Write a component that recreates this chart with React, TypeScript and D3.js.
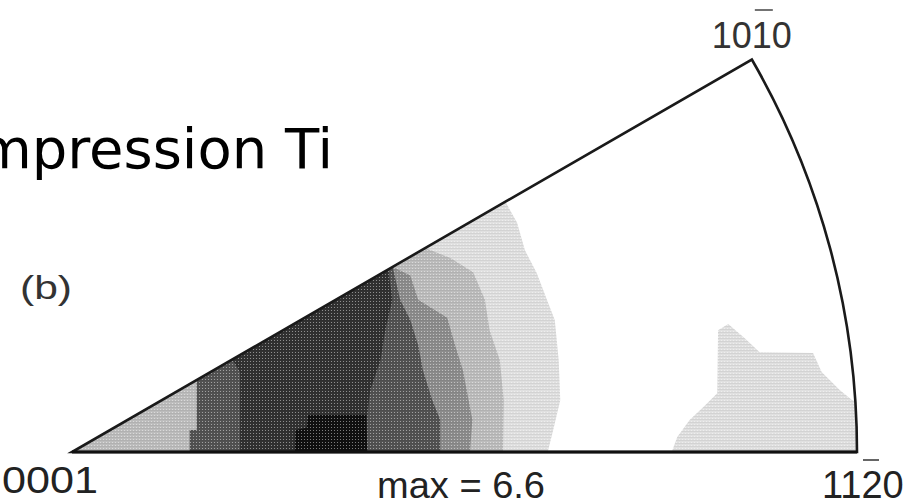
import React from 'react';
import * as d3 from 'd3';

// Inverse pole figure (hexagonal, 30 deg sector). Points are [u, v] in units of the
// sector radius, u along 0001 -> 11-20, v towards 10-10.
const levelColors = ['#e0e0e0', '#bcbcbc', '#8c8c8c', '#525252', '#313131', '#101010'];

// right-hand boundaries, listed from the upper edge down to the 0001-11-20 line
const l1Right = [[0.552, 0.319], [0.567, 0.292], [0.577, 0.257], [0.592, 0.228], [0.605, 0.194], [0.615, 0.168], [0.62, 0.117], [0.622, 0.066], [0.613, 0.028], [0.606, 0]];
const l2Right = [[0.45, 0.26], [0.482, 0.247], [0.511, 0.229], [0.526, 0.194], [0.532, 0.155], [0.545, 0.117], [0.55, 0.066], [0.549, 0]];
const l3Right = [[0.408, 0.236], [0.431, 0.225], [0.441, 0.194], [0.478, 0.171], [0.488, 0.136], [0.498, 0.104], [0.51, 0.041], [0.507, 0]];
const l4Right = [[0.408, 0.238], [0.418, 0.194], [0.431, 0.168], [0.441, 0.136], [0.447, 0.104], [0.459, 0.066], [0.469, 0.041], [0.469, 0]];
const l5Right = [[0.403, 0.232], [0.408, 0.194], [0.399, 0.155], [0.393, 0.117], [0.38, 0.079], [0.376, 0.046], [0.376, 0]];

// left-hand boundaries (top -> bottom); null = band reaches back to 0001
const l3Left = [[0.159, 0.104], [0.159, 0.028], [0.15, 0.028], [0.15, 0]];
const l5Left = [[0.204, 0.118], [0.214, 0.102], [0.214, 0]];

// closed patches
const maxPatch = [[0.284, 0], [0.285, 0.028], [0.299, 0.031], [0.301, 0.047], [0.375, 0.047], [0.376, 0]];
const prismPatch = [[0.764, 0], [0.771, 0.019], [0.787, 0.041], [0.804, 0.057], [0.822, 0.075], [0.823, 0.155], [0.836, 0.163], [0.857, 0.145], [0.876, 0.127], [0.944, 0.126], [0.955, 0.102], [0.978, 0.079], [0.994, 0.066], [1.01, 0.066], [1.01, 0]];

const bands = [
  { left: null, right: l1Right, level: 0 },
  { left: null, right: l2Right, level: 1 },
  { left: l3Left, right: l3Right, level: 2 },
  { left: l3Left, right: l4Right, level: 3 },
  { left: l5Left, right: l5Right, level: 4 },
];
const patches = [
  { pts: maxPatch, level: 5 },
  { pts: prismPatch, level: 0 },
];

const poleLabels = ['0001', '1120', '1010'];
const maxLabel = 'max = 6.6';

function bandPolygon(left, right) {
  const lft = left ? left.slice().reverse() : [[0, 0]];
  const top = 0.6;
  return [...lft, [lft[lft.length - 1][0], top], [right[0][0], top], ...right];
}

const App = () => {
  const width = 920;
  const height = 502;
  const ox = 72;
  const oy = 452;
  const R = 785;

  const x = d3.scaleLinear().domain([0, 1]).range([ox, ox + R]);
  const y = d3.scaleLinear().domain([0, 1]).range([oy, oy - R]);
  const line = d3.line().x(d => x(d[0])).y(d => y(d[1])).curve(d3.curveLinearClosed);

  const sector = d3.path();
  sector.moveTo(x(0), y(0));
  sector.lineTo(x(1), y(0));
  sector.arc(x(0), y(0), R, 0, -Math.PI / 6, true);
  sector.closePath();

  const cx = x(Math.cos(Math.PI / 6));
  const font = '"Liberation Sans", Arial, sans-serif';

  return (
    <svg width={width} height={height} style={{ position: 'absolute', left: 0, top: 0, background: '#fff' }}>
      <defs>
        <clipPath id="ipf">
          <path d={sector.toString()} />
        </clipPath>
        {/* halftone look of the scanned figure */}
        <pattern id="screen" width={3} height={3} patternUnits="userSpaceOnUse">
          <rect x={1} y={1} width={1} height={1} fill="#fff" opacity={0.45} />
          <rect x={0} y={2} width={3} height={1} fill="#000" opacity={0.06} />
        </pattern>
      </defs>

      <text x={333} y={168} textAnchor="end" fontFamily='"DejaVu Sans", Verdana, sans-serif' fontSize={56} fill="#000">
        Compression Ti
      </text>

      <g clipPath="url(#ipf)">
        {bands.map((b, i) => (
          <path key={'b' + i} d={line(bandPolygon(b.left, b.right))} fill={levelColors[b.level]} />
        ))}
        {patches.map((p, i) => (
          <path key={'p' + i} d={line(p.pts)} fill={levelColors[p.level]} />
        ))}
        <path d={line(bandPolygon(null, l1Right))} fill="url(#screen)" />
        <path d={line(prismPatch)} fill="url(#screen)" />
      </g>

      <path d={sector.toString()} fill="none" stroke="#1a1a1a" strokeWidth={2.6} strokeLinejoin="miter" />
      <line x1={x(0)} x2={x(1)} y1={y(0)} y2={y(0)} stroke="#111" strokeWidth={3} />

      <text x={20} y={299} fontFamily={font} fontSize={34} fill="#333" textLength={52} lengthAdjust="spacingAndGlyphs">(b)</text>

      <text x={2} y={493} fontFamily={font} fontSize={37} fill="#222" textLength={96} lengthAdjust="spacingAndGlyphs">{poleLabels[0]}</text>

      <text x={822} y={498} fontFamily={font} fontSize={38} fill="#222">{poleLabels[1]}</text>
      <line x1={863} x2={879} y1={460} y2={460} stroke="#333" strokeWidth={1.5} />

      <text x={cx} y={48} textAnchor="middle" fontFamily={font} fontSize={36} fill="#333">{poleLabels[2]}</text>
      <line x1={cx + 3} x2={cx + 21} y1={10} y2={10} stroke="#444" strokeWidth={1.5} />

      <text x={377} y={498} fontFamily={font} fontSize={36} fill="#222" textLength={168} lengthAdjust="spacingAndGlyphs">{maxLabel}</text>
    </svg>
  );
};

export default App;
